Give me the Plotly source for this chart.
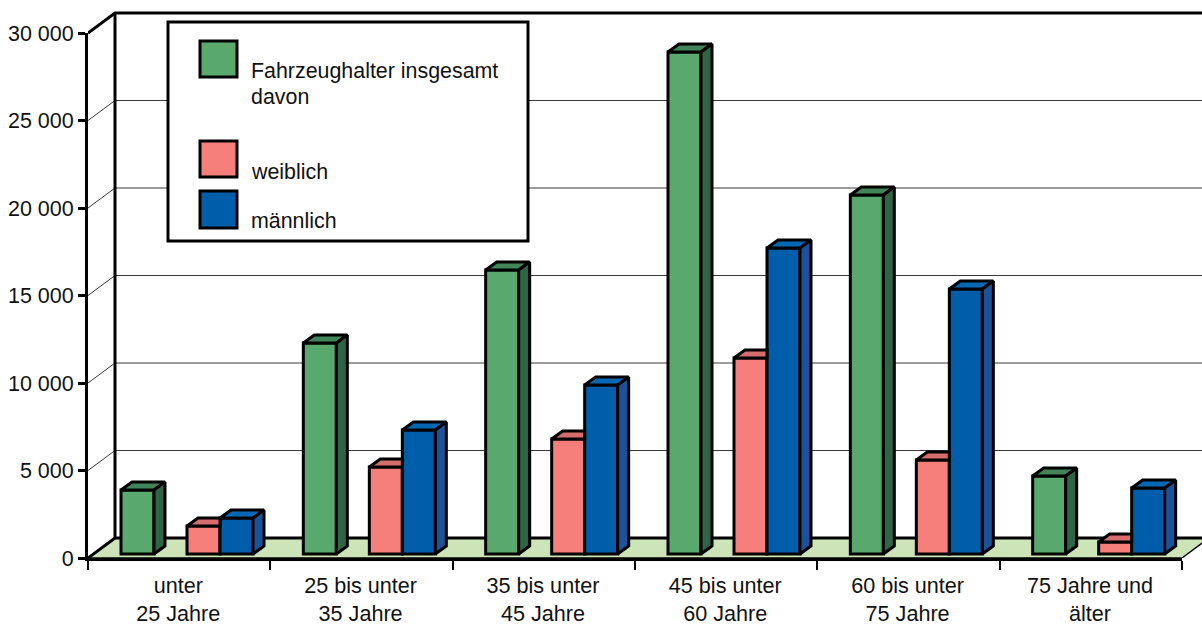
import plotly.graph_objects as go

categories = ["unter<br>25 Jahre", "25 bis unter<br>35 Jahre", "35 bis unter<br>45 Jahre",
              "45 bis unter<br>60 Jahre", "60 bis unter<br>75 Jahre", "75 Jahre und<br>älter"]
insgesamt = [3657, 12055, 16230, 28690, 20510, 4457]
weiblich = [1600, 4970, 6570, 11200, 5370, 686]
maennlich = [2057, 7085, 9660, 17490, 15140, 3770]
y_ticks = [0, 5000, 10000, 15000, 20000, 25000, 30000]
y_labels = ["0", "5 000", "10 000", "15 000", "20 000", "25 000", "30 000"]
legend_labels = ["Fahrzeughalter insgesamt", "davon", "weiblich", "männlich"]

W, H = 1202, 624
L, R_AX, T, B_AX, Y30 = 88, 1182, 5, 558, 33
PX_X = (R_AX - L) / 6
PX_Y = (B_AX - Y30) / 30000
DX, DY = 27 / PX_X, 20 / PX_Y          # wall depth
dx, dy = 11 / PX_X, 8 / PX_Y           # bar depth
BASE = 4 / PX_Y
BW = 33 / PX_X
XMAX = (W - L) / PX_X
FONT = "Liberation Sans"
ink = "black"
text_col = "#111"

fig = go.Figure()

def poly(xs, ys, fill, color=ink, width=3, axes=("x", "y")):
    fig.add_trace(go.Scatter(x=xs, y=ys, mode="lines", fill="toself" if fill else None,
                             fillcolor=fill, line=dict(color=color, width=width),
                             showlegend=False, hoverinfo="skip",
                             xaxis=axes[0], yaxis=axes[1]))

# floor
poly([0, DX, 6 + DX, 6, 0], [0, DY, DY, 0, 0], "#CCE4B8", width=1.5)
# grid lines on side and back wall
for v in y_ticks[1:-1]:
    poly([0, DX, 6 + DX], [v, v + DY, v + DY], None, color="#3a3a3a", width=1)
# wall frame
poly([0, DX, 6 + DX], [30000, 30000 + DY, 30000 + DY], None, width=3)
poly([DX, DX], [DY, 30000 + DY], None, width=3)
poly([0, DX, 6 + DX], [0, DY, DY], None, width=3)

series = [("Fahrzeughalter insgesamt", insgesamt, 33, "#59A96F", "#418559", "#2E6547"),
          ("weiblich", weiblich, 99, "#F77F7B", "#D46D6B", None),
          ("männlich", maennlich, 132, "#005DAA", "#0668B5", "#1B5299")]
for name, vals, off, front, top, side in series:
    o = off / PX_X
    fig.add_trace(go.Bar(x=list(range(6)), y=vals, base=[BASE] * 6, width=BW, offset=o,
                         marker=dict(color=front, line=dict(color=ink, width=3)),
                         name=name, showlegend=False, hoverinfo="skip",
                         xaxis="x2", yaxis="y2"))
for name, vals, off, front, top, side in series:
    o = off / PX_X
    tx, ty, sx, sy = [], [], [], []
    for i, v in enumerate(vals):
        x0, x1, t = i + o, i + o + BW, BASE + v
        if side is None:  # top partly hidden by the neighbouring taller bar
            tx += [x0, x1, x1, x0 + dx, x0, None]
        else:
            tx += [x0, x1, x1 + dx, x0 + dx, x0, None]
        ty += [t, t, t + dy, t + dy, t, None]
        sx += [x1, x1 + dx, x1 + dx, x1, x1, None]
        sy += [t, t + dy, BASE + dy, BASE, t, None]
    poly(tx, ty, top, axes=("x2", "y2"))
    if side:
        poly(sx, sy, side, axes=("x2", "y2"))

# invisible trace that carries the visible axes
fig.add_trace(go.Scatter(x=[0], y=[0], mode="none", showlegend=False, hoverinfo="skip",
                         xaxis="x3", yaxis="y3"))

yfull = [0, (B_AX - T) / PX_Y]
hidden = dict(visible=False, fixedrange=True)
fig.update_layout(
    width=W, height=H, margin=dict(l=L, r=0, t=T, b=H - B_AX, pad=0, autoexpand=False),
    paper_bgcolor="white", plot_bgcolor="rgba(0,0,0,0)", barmode="overlay",
    hovermode=False, showlegend=False, font=dict(family=FONT, size=21, color=text_col),
    xaxis=dict(domain=[0, 1], range=[0, XMAX], **hidden),
    yaxis=dict(domain=[0, 1], range=yfull, **hidden),
    xaxis2=dict(range=[0, XMAX], overlaying="x", anchor="y2", **hidden),
    yaxis2=dict(range=yfull, overlaying="y", anchor="x2", **hidden),
    xaxis3=dict(domain=[0, (R_AX - L) / (W - L)], range=[0, 6], anchor="y3", tickmode="array",
                tickvals=[i + 0.495 for i in range(6)], ticktext=categories, ticks="",
                showgrid=False, zeroline=False, showline=True, linecolor=ink, linewidth=3,
                ticklabelstandoff=6, tickfont=dict(family=FONT, size=21.6, color=text_col),
                minor=dict(tickmode="array", tickvals=list(range(7)), ticks="outside",
                           ticklen=9, tickwidth=2, tickcolor=ink, showgrid=False)),
    yaxis3=dict(domain=[0, (B_AX - Y30) / (B_AX - T)], range=[0, 30000], anchor="x3", tickmode="array",
                tickvals=y_ticks, ticktext=y_labels, ticks="outside", ticklen=7, tickwidth=3,
                tickcolor=ink, showgrid=False, zeroline=False, showline=True, linecolor=ink,
                linewidth=3, tickfont=dict(family=FONT, size=21.5, color=text_col)),
)

def fx(p): return (p - L) / (W - L)
def fy(p): return (B_AX - p) / (B_AX - T)

shapes = [dict(type="rect", xref="paper", yref="paper", x0=fx(168), x1=fx(528), y0=fy(241), y1=fy(22),
               fillcolor="white", line=dict(color=ink, width=3), layer="above")]
for (y0, y1), c in zip([(41, 77), (141, 177), (191, 228)], ["#59A96F", "#F77F7B", "#005DAA"]):
    shapes.append(dict(type="rect", xref="paper", yref="paper", x0=fx(200), x1=fx(237), y0=fy(y1), y1=fy(y0),
                       fillcolor=c, line=dict(color=ink, width=3), layer="above"))
fig.update_layout(shapes=shapes)
for text, yc in zip(legend_labels, [70.5, 96.5, 171.5, 221.5]):
    fig.add_annotation(text=text, xref="paper", yref="paper", x=fx(249), y=fy(yc), xanchor="left",
                       yanchor="middle", showarrow=False, font=dict(family=FONT, size=21.4, color=text_col))

fig.write_html("out.html", config=dict(displayModeBar=False),
               post_script="document.body.style.margin='0';document.documentElement.style.overflow='hidden';")
